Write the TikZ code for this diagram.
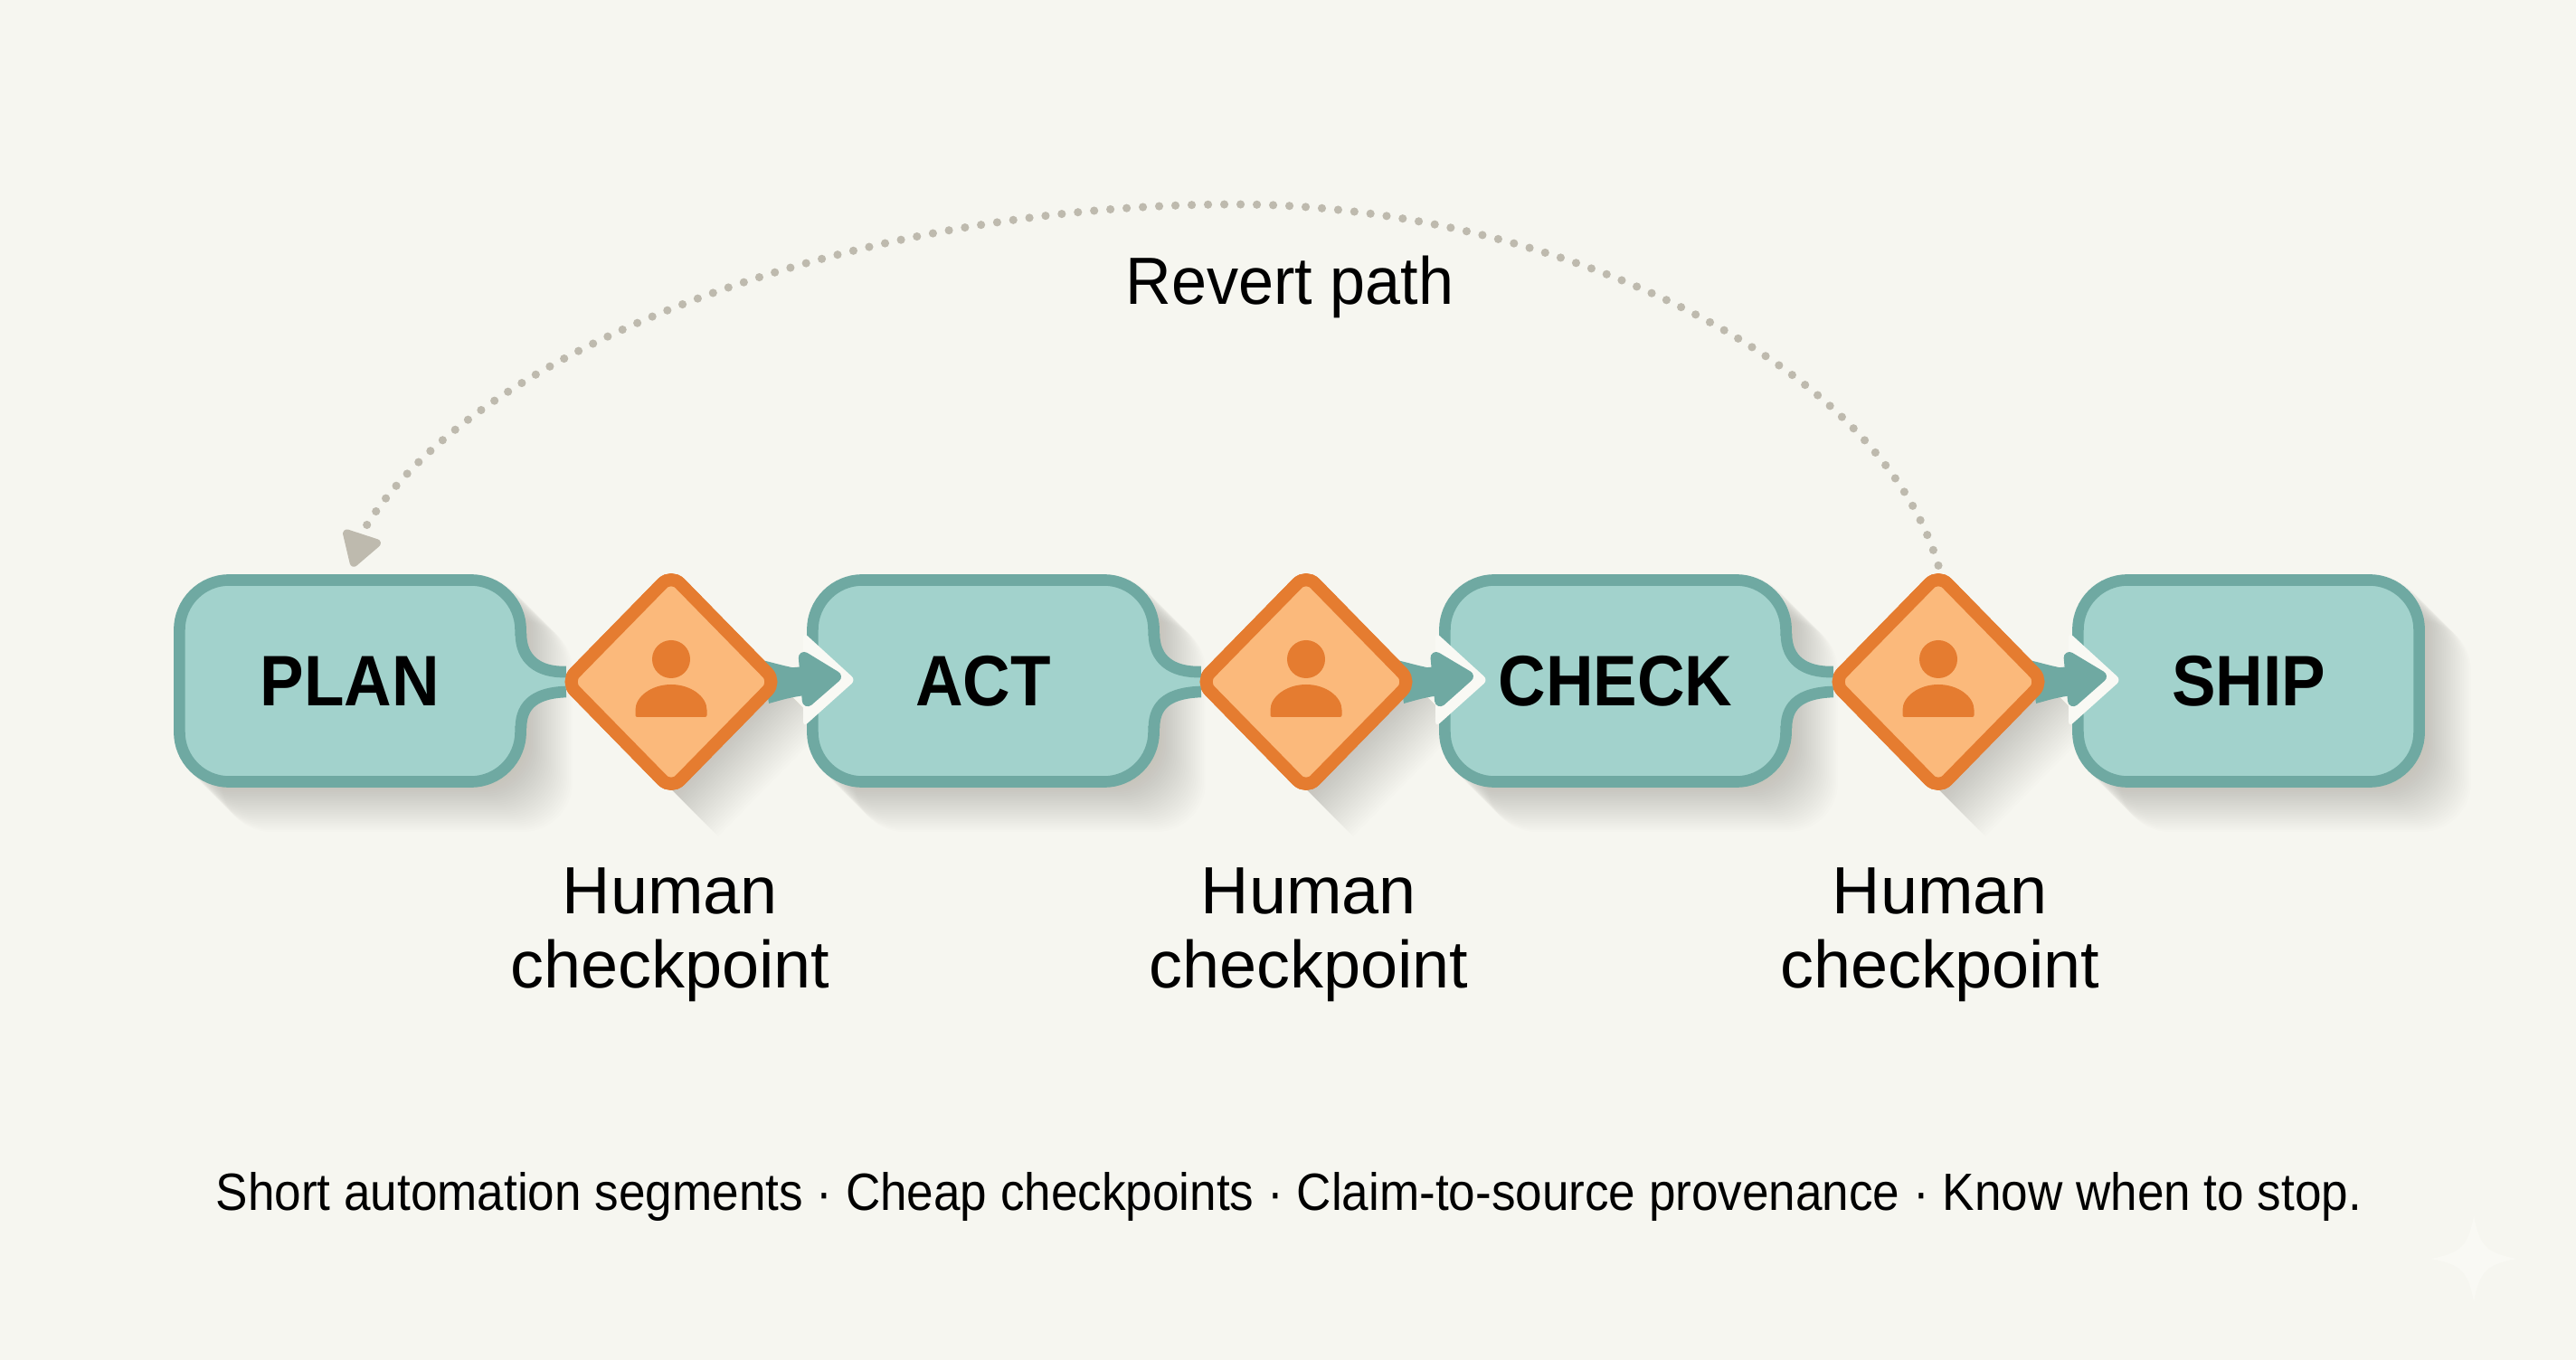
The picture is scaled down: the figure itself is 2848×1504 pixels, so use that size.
\documentclass[tikz,border=0pt]{standalone}
\usepackage{xcolor}
\usepackage{fontspec}
\setmainfont{Liberation Sans}
\newfontfamily\stagefont[FakeStretch=0.92]{Liberation Sans}
\newfontfamily\footfont[FakeStretch=0.915]{Liberation Sans}
\newfontfamily\revertfont[FakeStretch=0.95]{Liberation Sans}
\usetikzlibrary{positioning,calc,arrows.meta,shapes.geometric}

\definecolor{paper}{RGB}{246,246,240}
\definecolor{notchwhite}{RGB}{249,249,244}
\definecolor{tealfill}{RGB}{162,210,204}
\definecolor{tealline}{RGB}{111,169,162}
\definecolor{orangefill}{RGB}{251,185,123}
\definecolor{orangeline}{RGB}{229,124,48}
\definecolor{shadowtone}{RGB}{120,115,100}
\definecolor{revertgrey}{RGB}{190,186,174}

\tikzset{
    stagebox/.style={rectangle, rounded corners=0.55cm, draw=tealline, fill=tealfill,
        line width=3.6pt, minimum width=3.77cm, minimum height=2.23cm,
        font=\stagefont\fontsize{22.5}{26}\selectfont\bfseries, text=black},
    gatebox/.style={diamond, draw=orangeline, fill=orangefill, line width=4pt,
        rounded corners=0.14cm, minimum width=2.38cm, minimum height=2.43cm, inner sep=0pt},
    gatelabel/.style={font=\fontsize{21}{23.3}\selectfont, align=center, text=black},
    flow/.style={-{Triangle[length=0.5cm,width=0.69cm,round]}, tealline, line width=8pt},
    revert/.style={-{Triangle[length=0.42cm,width=0.48cm,round]}, revertgrey, line width=2.6pt,
        line cap=round, dash pattern=on 0pt off 0.18cm},
}

\begin{document}
\begin{tikzpicture}[x=0.01cm, y=-0.01cm]
    % Background
    \fill[paper] (0,0) rectangle (2848,1504);
    \useasboundingbox (0,0) rectangle (2848,1504);

    % Long shadows
    \foreach \s in {1,...,26} {
        \foreach \x in {387,1087,1786,2486} {
            \fill[shadowtone, fill opacity=0.012, rounded corners=0.55cm]
                (\x-194+\s*2,635+\s*2) rectangle (\x+194+\s*2,868+\s*2);
        }
        \foreach \x in {742,1444,2143} {
            \fill[shadowtone, fill opacity=0.012]
                (\x+\s*2,635+\s*2) -- (\x+117+\s*2,754+\s*2) -- (\x+\s*2,873+\s*2)
                -- (\x-117+\s*2,754+\s*2) -- cycle;
        }
    }

    % Stages
    \node[stagebox] (plan) at (387,753) {PLAN};
    \node[stagebox] (act) at (1087,753) {ACT};
    \node[stagebox] (check) at (1786,753) {CHECK};
    \node[stagebox] (ship) at (2486,753) {SHIP};

    % Gates
    \node[gatebox] (gatea) at (742,754) {};
    \node[gatebox] (gateb) at (1444,754) {};
    \node[gatebox] (gatec) at (2143,754) {};

    % Necks from box to gate
    \foreach \n/\g in {plan/gatea,act/gateb,check/gatec} {
        \fill[tealfill] ($(\n.east)+(-14,-50)$) -- ($(\n.east)+(-6,-50)$)
            .. controls ($(\n.east)+(-6,-24)$) and ($(\n.east)+(13,-9)$) .. ($(\g.west)+(10,-11)$)
            -- ($(\g.west)+(10,11)$)
            .. controls ($(\n.east)+(13,13)$) and ($(\n.east)+(-6,24)$) .. ($(\n.east)+(-6,50)$)
            -- ($(\n.east)+(-14,50)$) -- cycle;
        \draw[tealline, line width=3.6pt] ($(\n.east)+(-6,-52)$)
            .. controls ($(\n.east)+(-6,-24)$) and ($(\n.east)+(13,-9)$) .. ($(\g.west)+(10,-11)$);
        \draw[tealline, line width=3.6pt] ($(\n.east)+(-6,52)$)
            .. controls ($(\n.east)+(-6,24)$) and ($(\n.east)+(13,13)$) .. ($(\g.west)+(10,11)$);
    }

    % Notches for the arrows
    \foreach \n in {act,check,ship} {
        \fill[notchwhite, rounded corners=0.06cm] ($(\n.west)+(-4,-54)$) -- ($(\n.west)+(54,-1)$)
            -- ($(\n.west)+(-4,51)$) -- cycle;
    }

    % Arrows
    \foreach \g/\n in {gatea/act,gateb/check,gatec/ship} {
        \fill[tealline] ($(\g.east)+(-26,-24)$) .. controls ($(\g.east)+(-8,-20)$) and ($(\g.east)+(6,-15)$) .. ($(\g.east)+(22,-14)$)
            -- ($(\g.east)+(22,15)$) .. controls ($(\g.east)+(6,17)$) and ($(\g.east)+(-4,20)$) .. ($(\g.east)+(-18,24)$) -- cycle;
        \draw[flow, shorten >=-0.38cm] ($(\g.east)+(0,-1)$) -- ($(\n.west)+(0,-2)$);
    }

    % Redraw gates over the arrows, with person icon
    \foreach \g in {gatea,gateb,gatec} {
        \node[gatebox] at (\g) {};
        \fill[orangeline] ($(\g)+(0,-25)$) circle (21);
        \fill[orangeline, rounded corners=0.02cm] ($(\g)+(-39.5,39)$) -- ($(\g)+(-39.5,33)$)
            arc[start angle=180, end angle=360, x radius=39.5, y radius=30] -- ($(\g)+(39.5,39)$) -- cycle;
    }

    % Labels
    \node[gatelabel] (labela) at (741,1034) {Human\\checkpoint};
    \node[gatelabel] (labelb) at (1447,1034) {Human\\checkpoint};
    \node[gatelabel] (labelc) at (2145,1034) {Human\\checkpoint};

    % Revert path
    \draw[revert, shorten >=0.09cm] (gatec.north) .. controls (2075,395) and (1710,226) .. (1365,226)
        .. controls (950,226) and (530,380) .. ($(plan.north)+(17,-52)$) -- (plan.north);
    \node[font=\revertfont\fontsize{21}{24}\selectfont] (reverttext) at (1426,317) {Revert path};

    % Footer
    \node[font=\footfont\fontsize{16.5}{20}\selectfont] (footer) at (1425,1323)
        {Short automation segments · Cheap checkpoints · Claim-to-source provenance · Know when to stop.};

    % Sparkle mark
    \fill[notchwhite] (2735,1344) .. controls (2741,1378) and (2749,1386) .. (2783,1392)
        .. controls (2749,1398) and (2741,1406) .. (2735,1440)
        .. controls (2729,1406) and (2721,1398) .. (2687,1392)
        .. controls (2721,1386) and (2729,1378) .. (2735,1344) -- cycle;
\end{tikzpicture}
\end{document}
